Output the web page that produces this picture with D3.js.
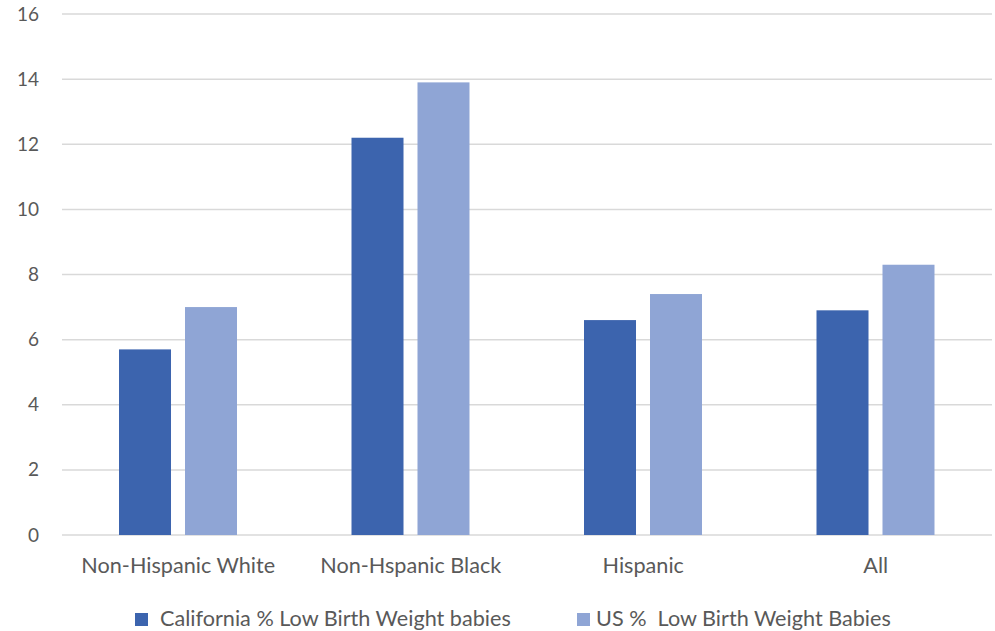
<!DOCTYPE html>
<html><head><meta charset="utf-8">
<script src="https://cdn.jsdelivr.net/npm/d3@7"></script>
<style>body{margin:0;background:#fff;} text{font-family:Lato,"Open Sans",sans-serif;fill:#595959;}</style>
</head><body><svg id="c" width="995" height="631"></svg>
<script>
const categories = ["Non-Hispanic White", "Non-Hspanic Black", "Hispanic", "All"];
const seriesNames = ["California % Low Birth Weight babies", "US %  Low Birth Weight Babies"];
const californiaValues = [5.7, 12.2, 6.6, 6.9];
const usValues = [7.0, 13.9, 7.4, 8.3];
const yTicks = [0, 2, 4, 6, 8, 10, 12, 14, 16];
const colors = ["#3C64AE", "#8FA5D5"];

(function(){
const svg = d3.select("#c");
const pLeft = 62, pRight = 992, pTop = 14, pBottom = 535;
const y = d3.scaleLinear().domain([0, 16]).range([pBottom, pTop]);
const x0 = d3.scaleBand().domain(categories).range([pLeft, pRight]).padding(0);
const x1 = d3.scaleBand().domain(seriesNames).range([57, 175]).paddingInner(0.212).paddingOuter(0);

svg.append("g").selectAll("line").data(yTicks).join("line")
  .attr("x1", pLeft).attr("x2", pRight)
  .attr("y1", d => y(d)).attr("y2", d => y(d))
  .attr("stroke", "#d9d9d9").attr("stroke-width", 1.5);

const yAxis = d3.axisLeft(y).tickValues(yTicks).tickSize(0).tickPadding(0);
const ya = svg.append("g").attr("transform", `translate(39,0)`).call(yAxis);
ya.select(".domain").remove();
ya.selectAll("text").attr("font-size", 19).style("font-family", "Lato, sans-serif").attr("fill", "#595959");

const data = categories.map((c, i) => ({c, vals: [californiaValues[i], usValues[i]]}));
const g = svg.append("g").selectAll("g").data(data).join("g")
  .attr("transform", d => `translate(${x0(d.c)},0)`);
g.selectAll("rect").data(d => d.vals.map((v, j) => ({s: seriesNames[j], v, j}))).join("rect")
  .attr("x", d => x1(d.s)).attr("width", x1.bandwidth())
  .attr("y", d => y(d.v)).attr("height", d => y(0) - y(d.v))
  .attr("fill", d => colors[d.j]);

const xAxis = d3.axisBottom(x0).tickSize(0).tickPadding(0);
const xa = svg.append("g").attr("transform", `translate(0,573)`).call(xAxis);
xa.select(".domain").remove();
const xt = xa.selectAll("text").attr("font-size", 18).style("font-family", "Lato, sans-serif").attr("fill", "#595959").attr("dy", 0);
// fit label font size to reference width
const w0 = xt.nodes()[0].getComputedTextLength();
const fs = 18 * 194 / w0;
xt.attr("font-size", fs);

const legX = [135, 577];
const legTX = [25, 19];
const leg = svg.append("g").selectAll("g").data(seriesNames).join("g")
  .attr("transform", (d, i) => `translate(${legX[i]},613)`);
leg.append("rect").attr("width", 13).attr("height", 13).attr("fill", (d, i) => colors[i]);
leg.append("text").attr("x", (d, i) => legTX[i]).attr("y", 13).attr("font-size", fs)
  .attr("xml:space", "preserve").style("white-space", "pre").text(d => d);
})();
</script></body></html>
